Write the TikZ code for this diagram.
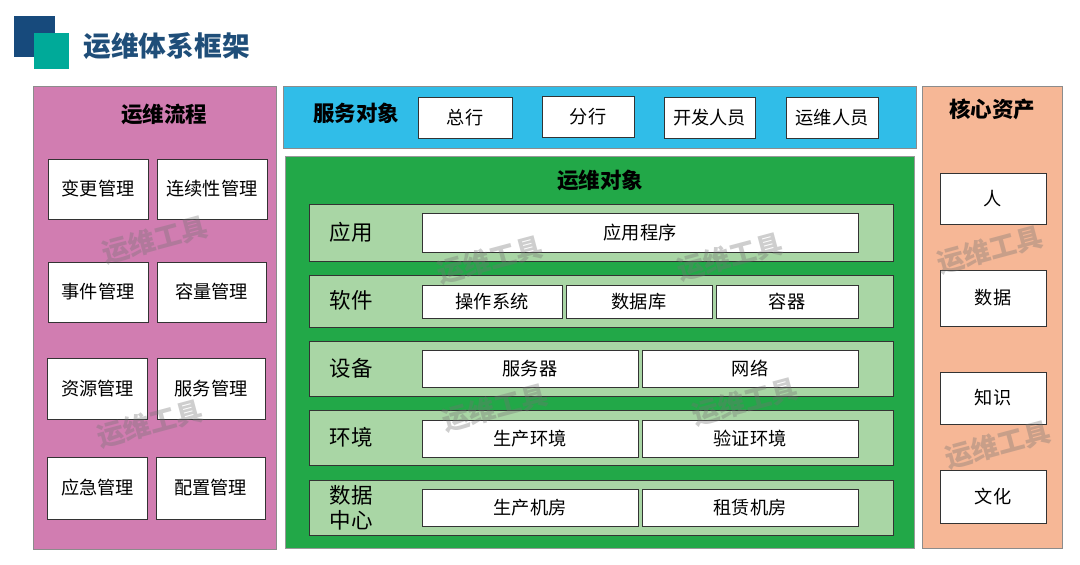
\documentclass[tikz,border=0pt]{standalone}
\usepackage{fontspec}
\setmainfont{Noto Sans CJK SC}
\definecolor{pinkp}{RGB}{209,125,177}
\definecolor{bluep}{RGB}{48,189,232}
\definecolor{greenp}{RGB}{34,168,72}
\definecolor{lgreen}{RGB}{169,214,165}
\definecolor{salmon}{RGB}{246,183,150}
\definecolor{navy}{RGB}{23,74,124}
\definecolor{tealc}{RGB}{0,170,153}
\definecolor{titlec}{RGB}{31,78,121}
\begin{document}
\begin{tikzpicture}[x=1pt,y=-1pt,
  panel/.style={draw=black!45, line width=0.8pt, anchor=north west, inner sep=0},
  box/.style={draw=black!80, line width=0.8pt, fill=white, inner sep=0,
    font=\fontsize{18.2}{21}\selectfont},
  rowbox/.style={draw=black!80, line width=0.8pt, fill=lgreen, inner sep=0},
  ptitle/.style={font=\fontsize{21.5}{24}\selectfont\bfseries},
  rlabel/.style={font=\fontsize{21.5}{25}\selectfont, align=center},
  wm/.style={text=black!55, opacity=0.35, rotate=15, font=\fontsize{27}{29}\selectfont\bfseries}
]
\path[use as bounding box] (0,0) rectangle (1080,565);
% logo
\fill[navy] (14,16) rectangle (55,57);
\fill[tealc] (34,33) rectangle (69,69);
\node[text=titlec, font=\fontsize{27.7}{30}\selectfont\bfseries, anchor=west] (title) at (80,46) {运维体系框架};

% left panel
\node[panel, fill=pinkp, minimum width=243, minimum height=463] (lp) at (33,86) {};
\node[ptitle] (lpt) at (164,114) {运维流程};
\node[box, minimum width=100, minimum height=60] (l11) at (98,189) {变更管理};
\node[box, minimum width=110, minimum height=60] (l12) at (212,189) {连续性管理};
\node[box, minimum width=100, minimum height=60] (l21) at (98,292) {事件管理};
\node[box, minimum width=109, minimum height=60] (l22) at (211.5,292) {容量管理};
\node[box, minimum width=100, minimum height=61] (l31) at (97.5,388.5) {资源管理};
\node[box, minimum width=108, minimum height=61] (l32) at (211,388.5) {服务管理};
\node[box, minimum width=100, minimum height=62] (l41) at (97.5,488) {应急管理};
\node[box, minimum width=109, minimum height=62] (l42) at (210.5,488) {配置管理};

% top blue panel
\node[panel, fill=bluep, minimum width=633, minimum height=62] (tp) at (283,86) {};
\node[ptitle] (tpt) at (356,113) {服务对象};
\node[box, minimum width=94, minimum height=41] (t1) at (465,117.5) {总行};
\node[box, minimum width=92, minimum height=41] (t2) at (588,116.5) {分行};
\node[box, minimum width=91, minimum height=41] (t3) at (709.5,117.5) {开发人员};
\node[box, minimum width=92, minimum height=41] (t4) at (832,117.5) {运维人员};

% green panel
\node[panel, draw=black!40, fill=greenp, minimum width=629, minimum height=392] (gp) at (285,156) {};
\node[ptitle] (gpt) at (600,180) {运维对象};
% rows
\node[rowbox, minimum width=584, minimum height=57] (r1) at (601,232.5) {};
\node[rowbox, minimum width=584, minimum height=52] (r2) at (601,301) {};
\node[rowbox, minimum width=584, minimum height=55] (r3) at (601,368.5) {};
\node[rowbox, minimum width=584, minimum height=55] (r4) at (601,437.5) {};
\node[rowbox, minimum width=584, minimum height=55] (r5) at (601,507.5) {};
\node[rlabel] (r1l) at (351,232.5) {应用};
\node[rlabel] (r2l) at (351,300) {软件};
\node[rlabel] (r3l) at (351,368.5) {设备};
\node[rlabel] (r4l) at (351,437.5) {环境};
\node[rlabel, font=\fontsize{21.5}{25}\selectfont] (r5l) at (351,507.5) {数据\\中心};
\node[box, minimum width=436, minimum height=39] (a1) at (640,232.5) {应用程序};
\node[box, minimum width=140, minimum height=33] (s1) at (492,301.5) {操作系统};
\node[box, minimum width=146, minimum height=33] (s2) at (639,301.5) {数据库};
\node[box, minimum width=142, minimum height=33] (s3) at (787,301.5) {容器};
\node[box, minimum width=216, minimum height=37] (d1) at (530,368.5) {服务器};
\node[box, minimum width=216, minimum height=37] (d2) at (750,368.5) {网络};
\node[box, minimum width=216, minimum height=37] (e1) at (530,438.5) {生产环境};
\node[box, minimum width=216, minimum height=37] (e2) at (750,438.5) {验证环境};
\node[box, minimum width=216, minimum height=37] (c1) at (530,507.5) {生产机房};
\node[box, minimum width=216, minimum height=37] (c2) at (750,507.5) {租赁机房};

% right panel
\node[panel, fill=salmon, minimum width=140, minimum height=462] (rp) at (922,86) {};
\node[ptitle] (rpt) at (992,109) {核心资产};
\node[box, minimum width=106, minimum height=51] (k1) at (993,198.5) {人};
\node[box, minimum width=106, minimum height=56] (k2) at (993,298) {数据};
\node[box, minimum width=106, minimum height=52] (k3) at (993,398) {知识};
\node[box, minimum width=106, minimum height=53] (k4) at (993,496.5) {文化};

% watermarks
\node[wm] (w1) at (155,240) {运维工具};
\node[wm] (w2) at (490,260) {运维工具};
\node[wm] (w3) at (730,257) {运维工具};
\node[wm] (w4) at (150,424) {运维工具};
\node[wm] (w5) at (495,408) {运维工具};
\node[wm] (w6) at (745,402) {运维工具};
\node[wm] (w7) at (990,250) {运维工具};
\node[wm] (w8) at (998,445) {运维工具};
\end{tikzpicture}
\end{document}
